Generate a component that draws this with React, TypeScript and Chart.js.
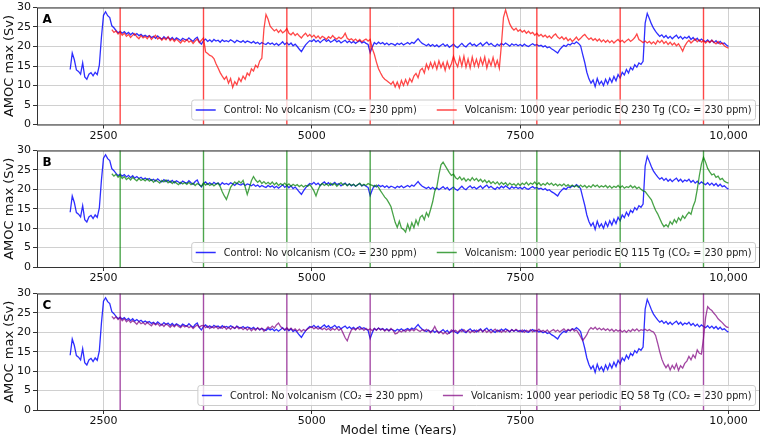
import React, { useEffect, useRef } from "react";
import { Chart, registerables } from "chart.js";

Chart.register(...registerables);

const FONT = "'DejaVu Sans', 'Liberation Sans', sans-serif";

// ---------- data ----------
const STEP = 25;
const CONTROL_START = 2100;
const VOLCANIC_START = 2600;
const ERUPTION_YEARS = [2700, 3700, 4700, 5700, 6700, 7700, 8700, 9700];
const X_TICKS = [2500, 5000, 7500, 10000];
const X_TICK_LABELS = ["2500", "5000", "7500", "10,000"];
const Y_TICKS = [0, 5, 10, 15, 20, 25, 30];
const PANEL_LETTERS = ["A", "B", "C"];
const CONTROL_LABEL = "Control: No volcanism (CO\u2082 = 230 ppm)";
const VOLCANIC_LABELS = [
  "Volcanism: 1000 year periodic EQ 230 Tg (CO\u2082 = 230 ppm)",
  "Volcanism: 1000 year periodic EQ 115 Tg (CO\u2082 = 230 ppm)",
  "Volcanism: 1000 year periodic EQ 58 Tg (CO\u2082 = 230 ppm)",
];

// Control run, 2100 .. 10000 every 25 years
const controlAMOC = [
  14.1, 18.3, 16.6, 14.0, 13.6, 12.9, 15.8, 12.2, 11.6, 12.9, 13.3, 12.5, 13.4, 12.8, 15.2, 22.3,
  28.0, 28.9, 27.9, 27.4, 25.3, 24.8, 24.1, 23.5, 23.9, 23.4, 23.8, 23.2, 23.6, 23.0, 23.5, 22.9, 23.3, 22.8, 23.1, 22.6,
  22.9, 22.5, 22.8, 22.3, 22.6, 22.1, 22.7, 22.2, 21.9, 22.5, 22.0, 22.4, 21.8, 22.3, 21.7, 22.2, 21.9, 21.5, 22.1, 21.8,
  21.6, 22.2, 21.7, 21.3, 22.0, 22.4, 21.2, 20.6, 21.5, 21.9, 21.3, 21.7, 21.2, 21.8, 21.4, 21.6, 21.1, 21.7, 21.3, 21.5,
  21.2, 21.7, 21.4, 21.0, 21.6, 21.3, 21.1, 21.5, 21.0, 21.4, 21.2, 20.9, 21.3, 20.8, 21.1, 20.6, 21.0, 20.7, 20.5, 21.0,
  20.6, 20.9, 20.4, 20.8, 20.3, 20.7, 21.2, 20.5, 21.0, 20.4, 20.9, 20.2, 20.6, 20.0, 19.3, 18.7, 19.6, 20.4, 21.0, 21.5,
  21.3, 21.8, 21.2, 21.6, 21.0, 21.5, 21.9, 21.3, 21.7, 21.1, 21.4, 21.8, 21.2, 21.5, 20.9, 21.3, 21.6, 21.0, 21.4, 20.9,
  21.3, 20.8, 21.2, 21.5, 20.9, 21.2, 20.8, 20.5, 18.4, 19.9, 21.0, 20.6, 21.1, 20.7, 21.0, 20.5, 20.9, 20.4, 20.8, 20.6,
  20.3, 20.8, 20.5, 20.9, 20.4, 20.7, 21.0, 20.6, 21.1, 20.8, 21.4, 22.0, 21.3, 20.8, 20.5, 20.2, 20.6, 20.1, 20.5, 20.0,
  20.4, 19.9, 20.3, 20.7, 20.1, 20.5, 19.8, 20.2, 20.6, 20.0, 19.7, 20.3, 20.8, 20.2, 19.9, 20.5, 20.9, 20.3, 20.6, 20.1,
  20.5, 20.9, 20.2, 20.7, 21.1, 20.4, 20.8, 20.3, 20.0, 20.6, 20.2, 20.8, 20.4, 20.9, 20.5, 20.1, 20.7, 20.3, 20.6, 20.2,
  20.5, 20.1, 20.6, 20.2, 20.0, 20.4, 20.7, 20.3, 20.5, 20.1, 20.3, 19.9, 20.2, 19.7, 19.9, 19.4, 19.1, 18.7, 18.3, 19.2,
  19.8, 20.3, 20.0, 20.6, 20.4, 20.9, 20.7, 21.2, 20.8, 20.2, 18.0, 15.9, 13.4, 11.7, 10.6, 11.4, 9.7, 11.8, 10.3, 11.1,
  10.0, 11.6, 10.4, 11.9, 10.8, 12.3, 11.2, 12.8, 11.9, 13.4, 12.7, 14.1, 13.2, 14.6, 14.0, 15.3, 14.7, 15.8, 15.4, 16.2,
  26.0, 28.5, 27.2, 25.8, 24.7, 23.9, 23.2, 22.6, 23.0, 22.3, 22.8, 22.1, 22.6, 22.0, 22.5, 22.9, 22.1, 22.6, 21.9, 22.4,
  22.1, 22.6, 21.8, 22.3, 21.6, 22.1, 21.4, 21.9, 21.5, 21.2, 21.7, 21.1, 21.6, 21.0, 21.5, 20.8, 21.3, 20.7, 20.9, 20.4,
  20.0,
];

// Volcanic runs, 2600 .. 10000 every 25 years
const volcanic230 = [
  24.3, 23.6, 24.0, 23.2, 23.7, 22.9, 23.4, 22.6, 23.1, 22.3, 22.9, 23.3, 22.5, 22.0, 22.8, 22.2,
  22.6, 22.0, 22.7, 21.8, 22.4, 22.9, 21.9, 22.3, 21.6, 22.2, 21.7, 22.5, 21.5, 22.0, 21.3, 21.9, 21.4, 20.9, 21.6, 21.2,
  21.8, 21.1, 21.5, 20.8, 21.4, 21.9, 21.0, 21.6, 22.2, 18.6, 18.2, 17.7, 17.5, 16.9, 15.6, 14.5, 13.3, 12.4, 11.6, 12.3,
  10.6, 11.8, 9.5, 11.0, 10.2, 11.9, 11.0, 12.4, 11.6, 13.2, 12.6, 14.3, 13.7, 15.2, 14.6, 16.3, 17.0, 24.5, 28.2, 27.0,
  25.2, 24.6, 24.0, 24.4, 23.6, 24.2, 23.5, 23.9, 24.6, 23.4, 23.0, 23.6, 22.8, 23.3, 22.7, 22.2, 22.9, 23.4, 22.6, 23.1,
  22.4, 22.9, 22.2, 22.7, 22.0, 22.6, 22.3, 21.8, 22.5, 22.1, 22.8, 22.2, 21.9, 22.4, 22.0, 22.5, 23.4, 22.1, 21.7, 22.0,
  21.5, 21.9, 21.3, 21.8, 21.2, 21.6, 21.9, 21.4, 21.8, 19.5, 18.0, 16.0, 14.3, 13.2, 12.2, 11.6, 11.2, 10.8, 10.3, 11.0,
  9.6, 10.9, 9.4, 11.3, 10.0, 11.5, 10.2, 11.8, 10.9, 12.4, 13.1, 12.0, 13.9, 14.4, 13.2, 15.5, 14.2, 15.9, 14.5, 16.0,
  14.2, 16.3, 14.6, 15.9, 13.9, 16.1, 14.4, 15.6, 17.5, 15.9, 14.8, 17.2, 15.0, 17.5, 14.7, 16.8, 14.5, 17.3, 15.0, 16.7,
  14.8, 17.0, 15.3, 17.3, 14.5, 16.6, 15.1, 17.2, 14.9, 16.4, 14.4, 20.5, 27.5, 29.4, 27.5, 25.8, 24.8, 24.2, 24.7, 23.9,
  24.3, 23.7, 24.1, 23.4, 23.9, 23.3, 23.6, 22.9, 23.4, 22.7, 23.1, 22.5, 22.9, 22.3, 22.7, 22.1, 22.8, 23.2, 22.4, 22.0,
  22.5, 21.8, 22.3, 21.5, 22.0, 21.3, 21.8, 22.4, 21.6, 22.1, 22.7, 23.1, 22.4, 21.8, 22.2, 21.6, 22.0, 21.4, 21.9, 21.2,
  21.7, 21.1, 21.6, 21.0, 21.5, 20.9, 21.4, 21.8, 21.2, 21.6, 21.0, 21.5, 21.9, 21.3, 21.7, 22.3, 23.2, 21.8, 21.4, 21.0,
  21.4, 20.9, 21.3, 20.7, 21.2, 20.6, 21.5, 21.0, 21.6, 20.8, 21.3, 20.5, 21.1, 20.4, 20.9, 20.2, 20.7, 19.8, 18.8, 20.1,
  21.0, 21.6, 20.9, 21.4, 21.9, 21.2, 21.7, 21.1, 21.5, 20.9, 21.4, 21.0, 21.6, 21.1, 20.7, 21.3, 20.6, 20.9, 20.2, 19.8,
  19.6,
];

const volcanic115 = [
  24.0, 23.4, 23.9, 23.1, 23.6, 22.8, 23.3, 22.5, 23.0, 22.4, 23.1, 22.6, 22.2, 22.8, 22.3, 22.6,
  22.2, 22.7, 22.1, 22.5, 21.8, 22.4, 22.0, 21.6, 22.3, 21.9, 22.4, 21.7, 22.1, 21.5, 22.0, 21.6, 21.2, 21.8, 21.4, 21.7,
  21.3, 21.8, 21.2, 21.6, 21.0, 21.5, 21.2, 20.8, 21.6, 21.1, 21.5, 21.0, 21.4, 20.9, 21.3, 21.6, 20.7, 19.4, 18.3, 17.4,
  18.9, 20.5, 21.3, 21.9, 21.4, 22.1, 21.6, 22.3, 20.6, 18.7, 20.4, 22.2, 23.3, 22.4, 21.8, 22.3, 21.5, 22.0, 21.4, 21.8,
  21.3, 21.9, 21.2, 21.7, 21.0, 21.5, 21.1, 21.6, 21.0, 21.4, 20.8, 21.3, 20.9, 21.2, 20.7, 21.1, 20.6, 21.0, 20.8, 21.2,
  20.5, 19.6, 18.3, 19.9, 21.0, 21.5, 21.0, 21.4, 20.9, 21.6, 21.1, 21.5, 20.8, 21.3, 21.7, 21.1, 21.5, 20.9, 21.4, 21.0,
  21.3, 20.8, 21.2, 21.6, 20.9, 21.3, 21.0, 21.5, 21.2, 21.0, 20.7, 21.1, 20.5, 19.6, 18.8, 18.0, 17.4, 16.5, 15.5, 13.5,
  11.5, 10.2, 11.8, 10.0, 9.7, 9.0, 11.0, 9.5, 11.4, 10.1, 12.1, 10.8, 12.8, 13.3, 12.2, 14.0, 13.0, 14.8, 16.8, 19.5,
  20.6, 23.8, 26.3, 27.0, 26.1, 25.2, 24.3, 23.6, 23.9, 23.0, 22.6, 23.2, 22.4, 22.9, 22.1, 22.7, 22.2, 23.0, 22.3, 22.8,
  22.1, 22.6, 21.9, 22.4, 21.7, 22.2, 21.5, 22.0, 21.4, 21.9, 21.2, 21.8, 21.3, 21.7, 21.0, 21.6, 21.1, 21.4, 20.9, 21.5,
  21.0, 21.6, 21.2, 21.8, 21.1, 21.6, 21.3, 21.9, 21.2, 21.7, 21.0, 21.5, 21.1, 21.7, 21.2, 21.6, 21.0, 21.4, 20.9, 21.3,
  20.9, 21.4, 20.8, 21.2, 20.7, 21.1, 20.6, 21.0, 20.5, 21.1, 20.6, 21.0, 20.4, 20.9, 20.5, 21.2, 20.7, 21.1, 20.5, 20.9,
  20.6, 21.0, 20.4, 20.9, 20.3, 20.8, 20.5, 21.0, 20.4, 20.9, 20.3, 20.7, 20.5, 21.0, 20.4, 20.8, 20.2, 20.6, 20.0, 19.6,
  19.4, 18.7, 18.0, 17.3, 15.9, 14.6, 13.7, 12.5, 11.3, 10.4, 10.9, 10.3, 11.7, 11.0, 12.2, 11.4, 12.7, 12.0, 13.2, 12.5,
  13.4, 14.1, 13.6, 15.6, 17.0, 20.0, 23.5, 26.5, 28.3, 27.0, 25.4, 24.5, 23.7, 24.0, 23.1, 23.4, 22.5, 22.8, 22.1, 21.8,
  21.6,
];

const volcanic58 = [
  24.1, 23.5, 24.0, 23.3, 23.8, 23.0, 23.5, 22.7, 23.2, 22.5, 23.0, 22.6, 22.1, 22.8, 22.2, 22.5,
  22.0, 22.6, 22.1, 21.7, 22.4, 21.9, 22.3, 21.6, 22.1, 21.5, 22.2, 21.8, 21.3, 21.9, 21.4, 22.0, 21.5, 21.2, 21.8, 21.4,
  21.7, 21.2, 21.6, 21.0, 21.5, 21.9, 21.3, 21.7, 21.8, 21.2, 21.6, 21.0, 21.5, 21.1, 21.6, 20.9, 21.4, 21.0, 21.5, 20.8,
  21.3, 20.8, 21.4, 21.0, 21.5, 20.9, 21.3, 20.7, 21.2, 20.6, 21.1, 20.4, 21.0, 20.5, 21.2, 20.7, 21.1, 20.3, 20.8, 21.4,
  21.0, 21.6, 21.1, 21.9, 22.4, 21.5, 21.0, 20.7, 21.2, 20.6, 21.1, 20.5, 20.9, 20.3, 20.8, 20.2, 20.7, 20.4, 20.9, 21.2,
  21.4, 20.9, 21.3, 20.8, 21.2, 20.7, 21.1, 20.6, 21.0, 20.5, 21.0, 20.6, 21.1, 20.5, 20.9, 19.8, 18.6, 17.8, 19.4, 20.6,
  21.0, 20.6, 21.2, 20.7, 21.1, 20.5, 21.0, 20.6, 20.9, 20.4, 21.0, 20.5, 21.1, 20.6, 20.9, 20.3, 20.8, 20.4, 21.0, 20.5,
  19.6, 19.8, 20.4, 20.1, 20.6, 20.2, 20.7, 20.3, 20.8, 20.4, 20.9, 20.5, 20.2, 20.7, 20.3, 20.8, 20.4, 19.9, 20.5, 21.5,
  20.4, 19.8, 20.2, 19.6, 20.0, 19.5, 19.9, 20.6, 20.1, 20.5, 20.0, 20.6, 20.2, 20.7, 20.1, 20.5, 19.9, 20.4, 20.0, 20.6,
  20.2, 20.7, 20.1, 20.6, 20.0, 20.5, 19.9, 20.4, 20.8, 20.2, 20.6, 20.0, 20.5, 20.1, 20.6, 20.2, 20.7, 20.3, 20.8, 20.4,
  20.1, 20.6, 20.0, 20.5, 20.2, 20.7, 20.1, 20.6, 20.3, 20.8, 20.2, 20.5, 20.1, 20.6, 20.0, 20.4, 20.7, 20.2, 20.6, 20.1,
  20.5, 20.9, 20.3, 20.8, 20.4, 20.9, 20.3, 20.6, 19.8, 18.9, 17.9, 18.6, 19.4, 20.6, 21.2, 20.8, 21.3, 20.7, 21.1, 20.6,
  21.0, 20.5, 20.9, 20.4, 20.8, 20.2, 20.7, 20.3, 20.6, 20.1, 20.5, 20.0, 20.6, 20.2, 20.8, 20.4, 20.9, 20.3, 20.7, 20.5,
  20.8, 20.4, 20.7, 20.3, 20.1, 19.2, 17.2, 15.0, 13.1, 11.8, 10.9, 11.7, 10.3, 11.5, 10.6, 11.9, 10.2, 11.4, 10.8, 12.0,
  12.6, 13.8, 12.9, 14.2, 13.4, 15.5, 14.6, 14.4, 18.5, 23.8, 26.6, 26.0, 25.6, 24.9, 24.3, 23.5, 23.0, 22.5, 21.9, 21.4,
  21.2,
];

// ---------- styling ----------
const CONTROL_COLOR = "rgba(0,0,255,0.82)";
const PANEL_COLORS = ["rgba(255,0,0,0.72)", "rgba(0,128,0,0.72)", "rgba(128,0,128,0.72)"];
const ERUPTION_COLORS = ["rgba(255,0,0,0.72)", "rgba(0,128,0,0.7)", "rgba(128,0,128,0.7)"];
const VOLCANIC_SERIES = [volcanic230, volcanic115, volcanic58];

const X_MIN = 1702;
const X_MAX = 10378;
const GRID = "#d0d0d0";
const AXIS = "#333333";
const TEXT = "#111111";

const PANEL_LAYOUT = [
  { top: 0, height: 143, xAxisH: 18.5, xTitle: false },
  { top: 143, height: 143, xAxisH: 19, xTitle: false },
  { top: 286, height: 157, xAxisH: 33, xTitle: true },
];

function drawLegend(ctx: CanvasRenderingContext2D, area: any, items: { label: string; color: string }[]) {
  const fontSize = 9.7;
  const pad = 4;
  const handle = 20;
  const hpad = 8;
  const colsp = 20;
  const h = 20;
  ctx.save();
  ctx.font = `${fontSize}px ${FONT}`;
  const widths = items.map((it) => ctx.measureText(it.label).width);
  let total = 2 * pad + colsp * (items.length - 1);
  widths.forEach((w) => (total += handle + hpad + w));
  const right = area.right - 4.5;
  const bottom = area.bottom - 4.5;
  const left = right - total;
  const top = bottom - h;
  ctx.beginPath();
  const r = 2.5;
  ctx.moveTo(left + r, top);
  ctx.lineTo(right - r, top);
  ctx.quadraticCurveTo(right, top, right, top + r);
  ctx.lineTo(right, bottom - r);
  ctx.quadraticCurveTo(right, bottom, right - r, bottom);
  ctx.lineTo(left + r, bottom);
  ctx.quadraticCurveTo(left, bottom, left, bottom - r);
  ctx.lineTo(left, top + r);
  ctx.quadraticCurveTo(left, top, left + r, top);
  ctx.closePath();
  ctx.fillStyle = "rgba(255,255,255,0.8)";
  ctx.fill();
  ctx.strokeStyle = "#cccccc";
  ctx.lineWidth = 1;
  ctx.stroke();
  let x = left + pad;
  const cy = top + h / 2;
  items.forEach((it, i) => {
    ctx.beginPath();
    ctx.strokeStyle = it.color;
    ctx.lineWidth = 1.5;
    ctx.moveTo(x, cy);
    ctx.lineTo(x + handle, cy);
    ctx.stroke();
    ctx.fillStyle = "#222";
    ctx.textBaseline = "middle";
    ctx.textAlign = "left";
    ctx.fillText(it.label, x + handle + hpad, cy + 0.5);
    x += handle + hpad + widths[i] + colsp;
  });
  ctx.restore();
}

function Panel({ index }: { index: number }) {
  const ref = useRef<HTMLCanvasElement | null>(null);
  const lay = PANEL_LAYOUT[index];

  useEffect(() => {
    const canvas = ref.current;
    if (!canvas) return;
    const toPoints = (vals: number[], start: number) => vals.map((v, i) => ({ x: start + i * STEP, y: v }));
    const legendItems = [
      { label: CONTROL_LABEL, color: CONTROL_COLOR },
      { label: VOLCANIC_LABELS[index], color: PANEL_COLORS[index] },
    ];

    const overlay = {
      id: "overlay" + index,
      afterDatasetsDraw(chart: any) {
        const { ctx, chartArea: a, scales } = chart;
        ctx.save();
        // eruption markers through the x scale
        ctx.strokeStyle = ERUPTION_COLORS[index];
        ctx.lineWidth = 1.4;
        ERUPTION_YEARS.forEach((yr) => {
          const px = scales.x.getPixelForValue(yr);
          ctx.beginPath();
          ctx.moveTo(px, scales.y.getPixelForValue(Y_TICKS[0]));
          ctx.lineTo(px, scales.y.getPixelForValue(Y_TICKS[Y_TICKS.length - 1]));
          ctx.stroke();
        });
        // frame
        ctx.strokeStyle = AXIS;
        ctx.lineWidth = 1;
        ctx.strokeRect(a.left + 0.5, a.top + 0.5, a.right - a.left - 1, a.bottom - a.top);
        // panel letter
        ctx.fillStyle = "#000";
        ctx.font = `bold 12px ${FONT}`;
        ctx.textAlign = "left";
        ctx.textBaseline = "alphabetic";
        ctx.fillText(PANEL_LETTERS[index], a.left + 5.5, a.top + 15);
        ctx.restore();
        drawLegend(ctx, a, legendItems);
      },
    };

    const chart = new Chart(canvas, {
      type: "line",
      data: {
        datasets: [
          {
            data: toPoints(VOLCANIC_SERIES[index], VOLCANIC_START),
            borderColor: PANEL_COLORS[index],
            borderWidth: 1.3,
            pointRadius: 0,
            order: 0,
          },
          {
            data: toPoints(controlAMOC, CONTROL_START),
            borderColor: CONTROL_COLOR,
            borderWidth: 1.3,
            pointRadius: 0,
            order: 1,
          },
        ] as any,
      },
      options: {
        animation: false,
        responsive: false,
        maintainAspectRatio: false,
        devicePixelRatio: 1,
        layout: { padding: { top: 5, right: 2, left: 0, bottom: 0 } },
        plugins: { legend: { display: false }, tooltip: { enabled: false } },
        elements: { line: { tension: 0 } },
        scales: {
          x: {
            type: "linear",
            min: X_MIN,
            max: X_MAX,
            afterBuildTicks: (s: any) => {
              s.ticks = X_TICKS.map((v) => ({ value: v }));
            },
            afterFit: (s: any) => {
              s.height = lay.xAxisH;
            },
            ticks: {
              autoSkip: false,
              maxRotation: 0,
              padding: 2,
              color: TEXT,
              font: { family: FONT, size: 11, lineHeight: 1 },
              callback: (_v: any, i: number) => X_TICK_LABELS[i],
            },
            grid: { color: GRID, lineWidth: 1, tickColor: AXIS, tickLength: 4, drawTicks: true },
            border: { display: false },
            title: {
              display: lay.xTitle,
              text: "Model time (Years)",
              color: TEXT,
              font: { family: FONT, size: 12.5 },
              padding: { top: 0, bottom: 5 },
            },
          },
          y: {
            type: "linear",
            min: Y_TICKS[0],
            max: Y_TICKS[Y_TICKS.length - 1],
            afterBuildTicks: (s: any) => {
              s.ticks = Y_TICKS.map((v) => ({ value: v }));
            },
            afterFit: (s: any) => {
              s.width = 37;
            },
            ticks: {
              padding: 2,
              color: TEXT,
              font: { family: FONT, size: 11, lineHeight: 1 },
            },
            grid: { color: GRID, lineWidth: 1, tickColor: AXIS, tickLength: 4, drawTicks: true },
            border: { display: false },
            title: {
              display: true,
              text: "AMOC max (Sv)",
              color: TEXT,
              font: { family: FONT, size: 13 },
              padding: { top: 2, bottom: 0 },
            },
          },
        },
      } as any,
      plugins: [overlay],
    });
    return () => chart.destroy();
  }, []);

  return (
    <canvas
      ref={ref}
      width={762}
      height={lay.height}
      style={{ position: "absolute", left: 0, top: lay.top, width: 762, height: lay.height }}
    />
  );
}

export default function App() {
  return (
    <div style={{ position: "absolute", left: 0, top: 0, width: 762, height: 443, background: "#fff" }}>
      <Panel index={0} />
      <Panel index={1} />
      <Panel index={2} />
    </div>
  );
}
